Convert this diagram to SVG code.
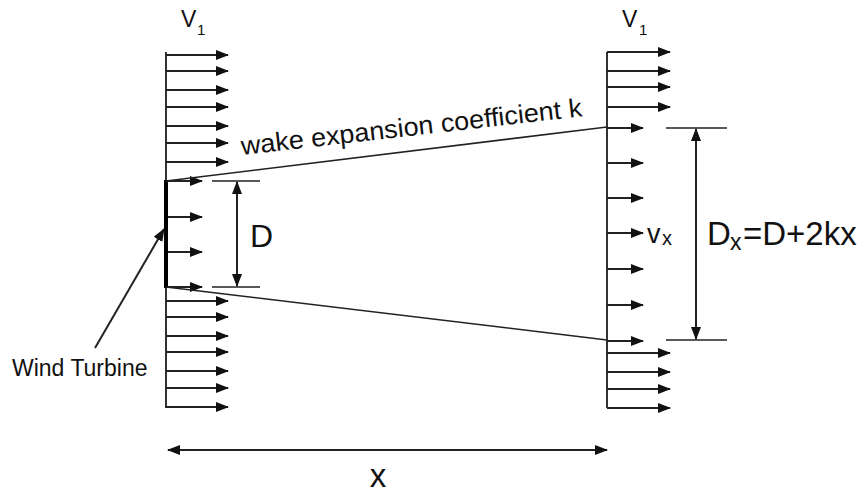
<svg xmlns="http://www.w3.org/2000/svg" width="866" height="493" viewBox="0 0 866 493">
<style>
.pl{stroke:#333;stroke-width:2;fill:none}
.ar{stroke:#222;stroke-width:2;fill:none;marker-end:url(#ah)}
.dim{stroke:#222;stroke-width:2;fill:none;marker-start:url(#ah);marker-end:url(#ah)}
.tk{stroke:#222;stroke-width:1.5;fill:none}
.wk{stroke:#222;stroke-width:1.5;fill:none}
text{font-family:"Liberation Sans",Arial,sans-serif;fill:#111}
</style>
<defs>
<marker id="ah" viewBox="0 0 13 10" refX="12" refY="5" markerWidth="13" markerHeight="10" markerUnits="userSpaceOnUse" orient="auto-start-reverse">
<path d="M0,0 L13,5 L0,10 z" fill="#111"/>
</marker>
</defs>
<rect width="866" height="493" fill="#fff"/>
<g id="left-profile">
<line class="pl" x1="166" y1="52" x2="166" y2="408"/>
<line class="ar" x1="166" y1="55" x2="228" y2="55"/>
<line class="ar" x1="166" y1="71" x2="228" y2="71"/>
<line class="ar" x1="166" y1="90" x2="228" y2="90"/>
<line class="ar" x1="166" y1="107" x2="228" y2="107"/>
<line class="ar" x1="166" y1="126" x2="228" y2="126"/>
<line class="ar" x1="166" y1="143" x2="228" y2="143"/>
<line class="ar" x1="166" y1="162" x2="228" y2="162"/>
<line class="ar" x1="166" y1="181" x2="202" y2="181"/>
<line class="ar" x1="166" y1="217" x2="202" y2="217"/>
<line class="ar" x1="166" y1="252" x2="202" y2="252"/>
<line class="ar" x1="166" y1="287" x2="202" y2="287"/>
<line class="ar" x1="166" y1="301" x2="228" y2="301"/>
<line class="ar" x1="166" y1="317" x2="228" y2="317"/>
<line class="ar" x1="166" y1="336" x2="228" y2="336"/>
<line class="ar" x1="166" y1="352" x2="228" y2="352"/>
<line class="ar" x1="166" y1="371" x2="228" y2="371"/>
<line class="ar" x1="166" y1="388" x2="228" y2="388"/>
<line class="ar" x1="166" y1="407" x2="228" y2="407"/>
</g>
<g id="turbine">
<line x1="166" y1="180" x2="166" y2="288" stroke="#000" stroke-width="4"/>
</g>
<g id="right-profile">
<line class="pl" x1="607" y1="52" x2="607" y2="408"/>
<line class="ar" x1="607" y1="52" x2="670" y2="52"/>
<line class="ar" x1="607" y1="71" x2="670" y2="71"/>
<line class="ar" x1="607" y1="87" x2="670" y2="87"/>
<line class="ar" x1="607" y1="107" x2="670" y2="107"/>
<line class="ar" x1="607" y1="128" x2="643" y2="128"/>
<line class="ar" x1="607" y1="163" x2="643" y2="163"/>
<line class="ar" x1="607" y1="198" x2="643" y2="198"/>
<line class="ar" x1="607" y1="233" x2="643" y2="233"/>
<line class="ar" x1="607" y1="269" x2="643" y2="269"/>
<line class="ar" x1="607" y1="305" x2="643" y2="305"/>
<line class="ar" x1="607" y1="341" x2="643" y2="341"/>
<line class="ar" x1="607" y1="353" x2="670" y2="353"/>
<line class="ar" x1="607" y1="372" x2="670" y2="372"/>
<line class="ar" x1="607" y1="389" x2="670" y2="389"/>
<line class="ar" x1="607" y1="408" x2="670" y2="408"/>
</g>
<g id="connectors">
<line class="wk" x1="166" y1="181" x2="607" y2="127"/>
<line class="wk" x1="166" y1="287" x2="607" y2="340"/>
<line class="tk" x1="212" y1="181" x2="260" y2="181"/>
<line class="tk" x1="212" y1="287" x2="260" y2="287"/>
<line class="dim" x1="237" y1="182" x2="237" y2="286"/>
<line class="tk" x1="666" y1="128" x2="727" y2="128"/>
<line class="tk" x1="666" y1="340" x2="727" y2="340"/>
<line class="dim" x1="696" y1="129" x2="696" y2="339"/>
<line class="ar" x1="95" y1="348" x2="164" y2="229"/>
<line class="dim" x1="168" y1="450" x2="607" y2="450"/>
</g>
<g id="labels">
<text x="181" y="27" font-size="23">V</text>
<text x="197" y="35" font-size="15">1</text>
<text x="622" y="27" font-size="23">V</text>
<text x="639" y="35" font-size="15">1</text>
<text x="242" y="155" font-size="26" transform="rotate(-6.5 242 155)" textLength="343" lengthAdjust="spacingAndGlyphs">wake expansion coefficient k</text>
<text x="250" y="247" font-size="32">D</text>
<text x="647" y="243" font-size="27">v</text>
<text x="662" y="245" font-size="20">x</text>
<text x="707" y="245" font-size="33">D</text>
<text x="730" y="250" font-size="23">x</text>
<text x="743" y="245" font-size="33">=D+2kx</text>
<text x="12" y="376" font-size="23">Wind Turbine</text>
<text x="378" y="487" font-size="33" text-anchor="middle">x</text>
</g>
</svg>
